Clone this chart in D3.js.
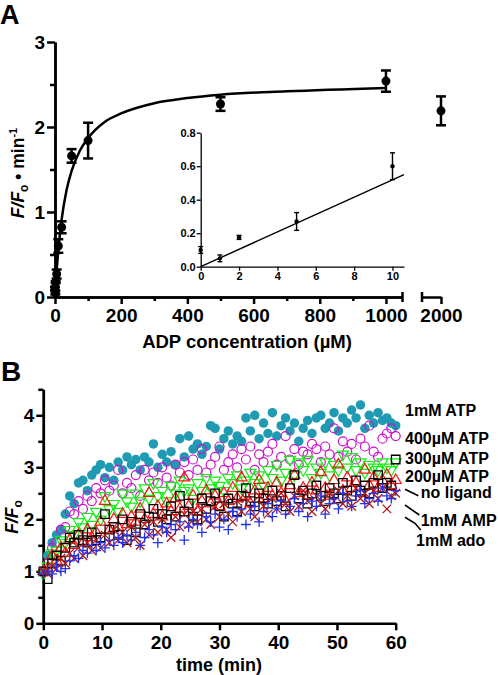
<!DOCTYPE html>
<html><head><meta charset="utf-8">
<script src="https://cdn.jsdelivr.net/npm/d3@7"></script>
<style>
body{margin:0;background:#fff}
svg{display:block}
text{font-family:"Liberation Sans",Arial,Helvetica,sans-serif;font-weight:bold;fill:#000}
</style>
</head><body><svg id="c" width="498" height="675"></svg>
<script>
// ---------- Panel A data ----------
const adpConc = [0, 1, 2, 5, 10, 20, 50, 100, 500, 1000];
const adpRate = [0.10, 0.05, 0.175, 0.27, 0.60, 0.82, 1.66, 1.84, 2.27, 2.54];
const adpErr  = [0.02, 0.02, 0.012, 0.053, 0.08, 0.07, 0.08, 0.21, 0.08, 0.125];
const highConc = [2000];
const highRate = [2.19];
const highErr  = [0.17];
const fitConc = [0, 5, 10, 20, 35, 50, 75, 100, 150, 200, 300, 400, 500, 700, 1000];
const fitRate = [0, 0.31, 0.55, 0.91, 1.26, 1.48, 1.72, 1.87, 2.06, 2.16, 2.28, 2.34, 2.38, 2.42, 2.46];
const insetFitConc = [0, 10.6];
const insetFitRate = [0, 0.55];
const xTicksA = [0, 200, 400, 600, 800, 1000];
const xMinorA = [100, 300, 500, 700, 900];
const xTicksA2 = [2000];
const yTicksA = [0, 1, 2, 3];
const yMinorA = [0.5, 1.5, 2.5];
const xTicksInset = [0, 2, 4, 6, 8, 10];
const yTicksInset = [0, 0.2, 0.4, 0.6, 0.8];

// ---------- Panel B data ----------
const times = [0,0.75,1.5,2.25,3,3.75,4.5,5.25,6,6.75,
7.5,8.25,9,9.75,10.5,11.25,12,12.75,13.5,14.25,
15,15.75,16.5,17.25,18,18.75,19.5,20.25,21,21.75,
22.5,23.25,24,24.75,25.5,26.25,27,27.75,28.5,29.25,
30,30.75,31.5,32.25,33,33.75,34.5,35.25,36,36.75,
37.5,38.25,39,39.75,40.5,41.25,42,42.75,43.5,44.25,
45,45.75,46.5,47.25,48,48.75,49.5,50.25,51,51.75,
52.5,53.25,54,54.75,55.5,56.25,57,57.75,58.5,59.25,60];
const atp1mM = [1.00,1.30,1.55,1.70,1.80,2.10,2.45,2.30,2.70,2.75,
2.55,2.85,2.95,3.05,2.80,3.00,2.75,3.10,2.95,3.20,
3.05,3.15,2.95,3.20,3.10,3.45,3.00,3.25,3.10,3.30,
3.05,3.55,3.20,3.60,3.35,3.45,3.25,3.40,3.80,3.75,
3.35,3.55,3.70,3.45,3.60,3.50,3.95,3.70,4.00,3.55,
3.85,3.65,4.05,3.60,3.80,3.95,3.70,3.85,3.50,3.75,
3.90,3.65,3.95,4.00,3.75,3.85,4.05,3.70,3.95,3.85,
4.10,3.95,4.20,3.75,4.00,3.85,4.05,3.90,3.95,3.85,3.80];
const atp400 = [1.00,1.15,1.45,1.55,1.80,1.85,2.15,2.10,2.35,2.20,
2.45,2.35,2.60,2.50,2.75,2.55,2.65,2.95,2.50,2.70,
2.60,2.85,2.45,2.95,2.75,2.90,2.70,3.00,2.80,2.65,
3.05,2.90,3.10,2.85,3.15,2.95,3.35,2.90,3.05,3.20,
3.40,2.95,3.10,3.25,3.00,3.35,3.15,3.40,2.95,3.25,
3.10,3.30,3.45,3.05,3.20,3.60,3.15,3.35,3.05,3.30,
3.25,3.45,3.35,3.10,3.40,3.25,3.75,3.20,3.50,3.30,
3.45,3.15,3.55,3.40,3.80,3.30,3.20,3.55,3.65,3.75,3.60];
const atp300 = [0.95,1.10,1.35,1.40,1.60,1.55,1.80,1.70,1.95,1.85,
2.05,1.90,2.15,2.00,2.45,2.20,2.30,2.15,2.50,2.35,
2.25,2.50,2.35,2.60,2.40,2.70,2.45,2.55,2.35,2.65,
2.50,2.75,2.55,2.60,2.40,2.70,2.55,2.80,2.60,2.75,
2.65,2.55,2.80,2.70,2.85,2.60,2.75,2.90,2.70,2.85,
2.65,2.95,2.80,3.05,2.75,2.90,3.15,2.85,3.10,2.95,
3.15,2.80,3.00,2.90,3.10,2.85,3.05,2.95,3.25,3.00,
3.20,2.95,3.10,2.90,3.05,3.00,2.95,3.10,3.00,2.95,3.10];
const atp200 = [1.00,1.05,1.30,1.20,1.45,1.35,1.60,1.50,1.70,1.55,
1.80,1.65,1.75,1.95,2.35,1.80,2.00,1.85,2.10,1.90,
2.05,1.95,2.20,2.00,2.50,2.10,2.25,2.05,2.30,2.15,
2.40,2.20,2.80,2.25,2.45,2.15,2.35,2.55,2.30,2.45,
2.25,2.50,2.35,2.60,2.40,2.80,2.45,2.30,2.55,2.75,
2.40,2.60,2.45,2.70,2.50,2.35,2.65,2.85,2.50,2.60,
2.45,2.70,2.55,2.90,2.60,2.45,2.75,3.05,2.55,2.80,
2.60,2.70,2.50,2.95,2.65,2.80,2.60,2.75,2.85,2.65,2.75];
const noLigand = [1.00,0.85,1.15,1.30,1.20,1.45,1.65,1.55,1.70,1.60,
1.55,1.75,1.60,1.65,2.10,1.80,1.85,1.70,2.00,1.60,
1.95,1.75,2.10,1.90,2.05,2.20,1.95,2.10,2.00,2.25,
2.05,2.45,2.15,2.30,2.05,2.00,2.40,2.20,2.35,2.50,
2.25,2.05,2.40,2.30,2.15,2.45,2.60,2.35,2.25,2.50,
2.40,2.30,2.55,2.35,2.45,2.25,2.60,2.85,2.40,2.55,
2.30,2.50,2.65,2.45,2.35,2.60,2.50,2.40,2.70,2.55,
2.45,2.75,2.55,2.65,2.50,2.70,2.85,2.60,2.70,2.65,3.15];
const amp1mM = [1.00,0.95,1.10,1.05,1.25,1.15,1.35,1.25,1.45,1.30,
1.55,1.40,1.60,1.45,1.70,1.55,1.80,1.60,1.75,1.55,
1.85,1.65,1.50,1.90,1.70,1.95,1.75,2.00,1.80,1.65,
2.05,1.85,2.10,1.90,2.15,1.95,2.20,2.00,1.90,2.25,
2.05,2.30,2.10,1.95,2.35,2.15,2.40,2.20,2.05,2.45,
2.25,2.10,2.40,2.20,2.50,2.30,2.15,2.45,2.25,2.55,
2.35,2.15,2.45,2.30,2.20,2.50,2.35,2.55,2.30,2.45,
2.25,2.60,2.40,2.50,2.30,2.55,2.40,2.60,2.20,2.45,2.50];
const ado1mM = [0.95,1.00,0.95,1.10,1.00,1.05,1.20,1.30,1.25,1.40,
1.35,1.50,1.40,1.55,1.45,1.60,1.50,1.65,1.55,1.70,
1.60,1.75,1.50,1.65,1.80,1.70,1.55,1.85,1.75,1.90,
1.80,1.95,1.60,1.85,2.00,1.90,1.75,2.05,1.95,2.10,
1.85,2.00,1.80,2.15,2.05,2.20,1.90,2.10,2.25,1.95,
2.15,2.30,2.05,2.20,2.35,2.10,2.25,2.40,2.15,2.30,
2.05,2.35,2.25,2.45,2.10,2.30,2.40,2.20,2.50,2.35,
2.25,2.45,2.55,2.30,2.40,2.50,2.35,2.60,2.45,2.40,2.55];
const seriesNames = ["1mM ATP", "400\u00b5M ATP", "300\u00b5M ATP", "200\u00b5M ATP", "no ligand", "1mM AMP", "1mM ado"];
const xTicksB = [0, 10, 20, 30, 40, 50, 60];
const yTicksB = [0, 1, 2, 3, 4];
const yMinorB = [0.5, 1.5, 2.5, 3.5, 4.5];

// ---------- drawing ----------
const svg = d3.select("#c");
const styleAxis = (g, sw, fs) => {
  g.selectAll(".domain").attr("stroke", "#000").attr("stroke-width", sw);
  g.selectAll(".tick line").attr("stroke", "#000").attr("stroke-width", sw);
  g.selectAll(".tick text").style("font-size", fs + "px").style("font-weight", "bold").attr("fill", "#000")
    .style("font-family", "'Liberation Sans',Arial,sans-serif");
};

// Panel A scales
const xA = d3.scaleLinear().domain([0, 1050]).range([55, 402.5]);
const xA2 = d3.scaleLinear().domain([1943, 2000]).range([422, 441]);
const yA = d3.scaleLinear().domain([0, 3]).range([297, 42]);

// Panel A axes
const gyA = svg.append("g").attr("transform", "translate(55,0)")
  .call(d3.axisLeft(yA).tickValues(yTicksA).tickSize(8).tickSizeOuter(0).tickPadding(2).tickFormat(d3.format("d")));
styleAxis(gyA, 2.5, 19);
const gyAm = svg.append("g").attr("transform", "translate(55,0)")
  .call(d3.axisLeft(yA).tickValues(yMinorA).tickSize(5).tickSizeOuter(0).tickFormat(""));
styleAxis(gyAm, 2.5, 19);

const gxA = svg.append("g").attr("transform", "translate(0,297)")
  .call(d3.axisBottom(xA).tickValues(xTicksA).tickSize(7).tickSizeOuter(0).tickPadding(5).tickFormat(d3.format("d")));
styleAxis(gxA, 2.5, 19);
const gxAm = svg.append("g").attr("transform", "translate(0,297)")
  .call(d3.axisBottom(xA).tickValues(xMinorA).tickSize(4).tickSizeOuter(0).tickFormat(""));
styleAxis(gxAm, 2.5, 19);
const gxA2 = svg.append("g").attr("transform", "translate(0,297)")
  .call(d3.axisBottom(xA2).tickValues(xTicksA2).tickSize(7).tickSizeOuter(0).tickPadding(5).tickFormat(d3.format("d")));
styleAxis(gxA2, 2.5, 19);
// break caps
svg.append("line").attr("x1", xA.range()[1]).attr("x2", xA.range()[1]).attr("y1", 292).attr("y2", 302).attr("stroke", "#000").attr("stroke-width", 2.5);
svg.append("line").attr("x1", xA2.range()[0]).attr("x2", xA2.range()[0]).attr("y1", 292).attr("y2", 302).attr("stroke", "#000").attr("stroke-width", 2.5);

// fit curve
const fitLine = d3.line().x((d, i) => xA(fitConc[i])).y(d => yA(d)).curve(d3.curveMonotoneX);
svg.append("path").attr("d", fitLine(fitRate)).attr("fill", "none").attr("stroke", "#000").attr("stroke-width", 2.5);

function errPoint(g, x, y, yl, yh, cap, sw, r) {
  g.append("line").attr("x1", x).attr("x2", x).attr("y1", yl).attr("y2", yh).attr("stroke", "#000").attr("stroke-width", sw);
  g.append("line").attr("x1", x - cap).attr("x2", x + cap).attr("y1", yl).attr("y2", yl).attr("stroke", "#000").attr("stroke-width", sw);
  g.append("line").attr("x1", x - cap).attr("x2", x + cap).attr("y1", yh).attr("y2", yh).attr("stroke", "#000").attr("stroke-width", sw);
  g.append("circle").attr("cx", x).attr("cy", y).attr("r", r).attr("fill", "#000");
}
const gA = svg.append("g");
adpConc.forEach((c, i) => errPoint(gA, xA(c), yA(adpRate[i]), yA(adpRate[i] - adpErr[i]), yA(adpRate[i] + adpErr[i]), 5, 2.5, 4.5));
highConc.forEach((c, i) => errPoint(gA, xA2(c), yA(highRate[i]), yA(highRate[i] - highErr[i]), yA(highRate[i] + highErr[i]), 5, 2.5, 4.5));

// Inset
const xI = d3.scaleLinear().domain([0, 10.6]).range([200.7, 404]);
const yI = d3.scaleLinear().domain([0, 0.8]).range([266.7, 132.7]);
const gyI = svg.append("g").attr("transform", "translate(200.7,0)")
  .call(d3.axisLeft(yI).tickValues(yTicksInset).tickSize(4).tickSizeOuter(0).tickPadding(1).tickFormat(d3.format(".1f")));
styleAxis(gyI, 1.3, 11);
const gxI = svg.append("g").attr("transform", "translate(0,266.7)")
  .call(d3.axisBottom(xI).tickValues(xTicksInset).tickSize(4).tickSizeOuter(0).tickPadding(2).tickFormat(d3.format("d")));
styleAxis(gxI, 1.3, 11);
svg.append("line").attr("x1", xI(insetFitConc[0])).attr("y1", yI(insetFitRate[0]))
  .attr("x2", xI(insetFitConc[1])).attr("y2", yI(insetFitRate[1])).attr("stroke", "#000").attr("stroke-width", 1.4);
const gI = svg.append("g");
adpConc.forEach((c, i) => { if (c <= 10) errPoint(gI, xI(c), yI(adpRate[i]), yI(adpRate[i] - adpErr[i]), yI(adpRate[i] + adpErr[i]), 2.5, 1.4, 2.2); });

// Panel A labels
svg.append("text").attr("x", 0).attr("y", 24).style("font-size", "27px").text("A");
svg.append("text").attr("x", 247).attr("y", 348).attr("text-anchor", "middle").style("font-size", "18.5px").text("ADP concentration (\u00b5M)");
const ylA = svg.append("text").attr("transform", "translate(24,173) rotate(-90)").attr("text-anchor", "middle").style("font-size", "17.5px");
ylA.append("tspan").style("font-style", "italic").text("F/F");
ylA.append("tspan").attr("dy", 4).style("font-size", "12px").text("o");
ylA.append("tspan").attr("dy", -4).text(" \u2022 min");
ylA.append("tspan").attr("dy", -7).style("font-size", "11px").text("-1");

// ---------- Panel B ----------
const xB = d3.scaleLinear().domain([0, 60]).range([43.3, 395.7]);
const yB = d3.scaleLinear().domain([0, 4.5]).range([623.3, 389.3]);
const gyB = svg.append("g").attr("transform", "translate(43.3,0)")
  .call(d3.axisLeft(yB).tickValues(yTicksB).tickSize(7).tickSizeOuter(0).tickPadding(2).tickFormat(d3.format("d")));
styleAxis(gyB, 2.5, 19);
const gyBm = svg.append("g").attr("transform", "translate(43.3,0)")
  .call(d3.axisLeft(yB).tickValues(yMinorB).tickSize(5).tickSizeOuter(0).tickFormat(""));
styleAxis(gyBm, 2.5, 19);
const gxB = svg.append("g").attr("transform", "translate(0,623.3)")
  .call(d3.axisBottom(xB).tickValues(xTicksB).tickSize(7).tickSizeOuter(0).tickPadding(5).tickFormat(d3.format("d")));
styleAxis(gxB, 2.5, 19);

function shape(type, s) {
  const h = s / 2;
  switch (type) {
    case "circle": return `M${h},0A${h},${h} 0 1,1 ${-h},0A${h},${h} 0 1,1 ${h},0Z`;
    case "square": return `M${-h},${-h}H${h}V${h}H${-h}Z`;
    case "triUp": { const t = s * 0.866; return `M0,${-t * 2 / 3}L${h},${t / 3}L${-h},${t / 3}Z`; }
    case "triDown": { const t = s * 0.866; return `M0,${t * 2 / 3}L${h},${-t / 3}L${-h},${-t / 3}Z`; }
    case "plus": return `M${-h},0H${h}M0,${-h}V${h}`;
    case "times": return `M${-h},${-h}L${h},${h}M${-h},${h}L${h},${-h}`;
  }
}
const seriesB = [
  { vals: atp1mM, type: "circle", size: 9.5, fill: "#1f9ab3", stroke: "none", sw: 0 },
  { vals: atp400, type: "circle", size: 9, fill: "none", stroke: "#cc11cc", sw: 1.2 },
  { vals: atp300, type: "triDown", size: 11, fill: "none", stroke: "#11ee11", sw: 1.2 },
  { vals: atp200, type: "triUp", size: 11, fill: "none", stroke: "#ff1111", sw: 1.2 },
  { vals: noLigand, type: "square", size: 8.5, fill: "none", stroke: "#000", sw: 1.3 },
  { vals: amp1mM, type: "times", size: 8.5, fill: "none", stroke: "#b01818", sw: 1.3 },
  { vals: ado1mM, type: "plus", size: 10, fill: "none", stroke: "#2233ee", sw: 1.3 }
];
seriesB.forEach(s => {
  const g = svg.append("g");
  const n = Math.min(times.length, s.vals.length);
  for (let i = 0; i < n; i++) {
    g.append("path").attr("d", shape(s.type, s.size))
      .attr("transform", `translate(${xB(times[i])},${yB(s.vals[i])})`)
      .attr("fill", s.fill).attr("stroke", s.stroke).attr("stroke-width", s.sw);
  }
});

// Panel B labels
svg.append("text").attr("x", 1).attr("y", 381).style("font-size", "28px").text("B");
svg.append("text").attr("x", 219).attr("y", 671).attr("text-anchor", "middle").style("font-size", "18px").text("time (min)");
const ylB = svg.append("text").attr("transform", "translate(18,517) rotate(-90)").attr("text-anchor", "middle").style("font-size", "17.5px");
ylB.append("tspan").style("font-style", "italic").text("F/F");
ylB.append("tspan").attr("dy", 4).style("font-size", "12px").text("o");

const labelPos = [[405, 416], [405, 444], [405, 464], [405, 481.7], [420.7, 498], [420.7, 526], [416, 546]];
seriesNames.forEach((nm, i) => {
  svg.append("text").attr("x", labelPos[i][0]).attr("y", labelPos[i][1]).style("font-size", "16px").text(nm);
});
const leaders = [
  [[405, 489.3], [418.3, 495.7]],
  [[405, 505], [419.3, 515]],
  [[405, 517.3], [415, 523.3], [420.7, 530]]
];
leaders.forEach(p => svg.append("path").attr("d", d3.line()(p)).attr("fill", "none").attr("stroke", "#000").attr("stroke-width", 1.6));
</script>
</body></html>
